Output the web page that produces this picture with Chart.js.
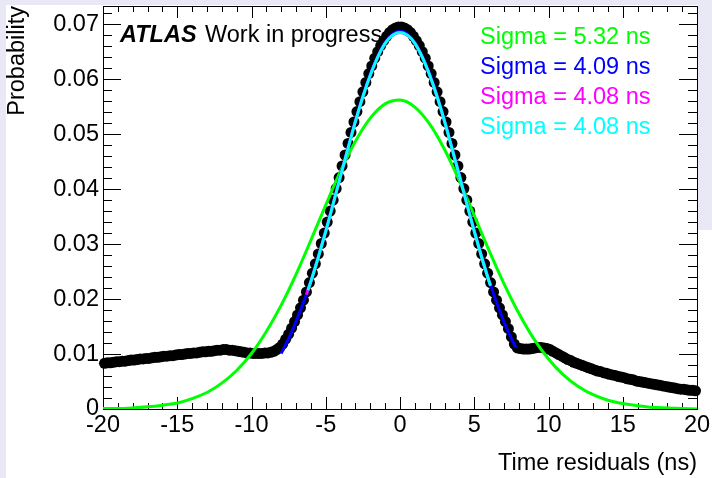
<!DOCTYPE html>
<html>
<head>
<meta charset="utf-8">
<script src="https://cdn.jsdelivr.net/npm/chart.js@4.4.1/dist/chart.umd.min.js"></script>
<style>
  html, body { margin: 0; padding: 0; background: #fff; }
  body { width: 712px; height: 478px; position: relative; overflow: hidden; }
  .strip { position: absolute; background: #e9e9f5; }
  #c { position: absolute; left: 0; top: 0; }
</style>
</head>
<body>
<div class="strip" style="left:0;top:0;width:712px;height:5px"></div>
<div class="strip" style="left:0;top:0;width:6px;height:478px"></div>
<div class="strip" style="left:698px;top:0;width:14px;height:230px"></div>
<canvas id="c" width="712" height="478"></canvas>
<script>
/* ===============================
   DATA (0.2 ns bins, -20 .. 20)
================================ */
const leftTail = [
    0.0083, 0.0084, 0.0084, 0.0085, 0.0086, 0.0086, 0.0087, 0.0087, 0.0088, 0.0089,
    0.0089, 0.0090, 0.0091, 0.0091, 0.0092, 0.0092, 0.0093, 0.0094, 0.0094, 0.0095,
    0.0096, 0.0096, 0.0097, 0.0097, 0.0098, 0.0099, 0.0099, 0.0100, 0.0101, 0.0101,
    0.0102, 0.0102, 0.0103, 0.0104, 0.0104, 0.0105, 0.0105, 0.0106, 0.0107, 0.0107,
    0.0108, 0.0108, 0.0107, 0.0107, 0.0106, 0.0105, 0.0104, 0.0103, 0.0102, 0.0102,
    0.0101, 0.0101, 0.0101, 0.0101, 0.0102, 0.0102, 0.0103, 0.0105, 0.0108, 0.0112
];
const risingEdge = [
    0.0118, 0.0127, 0.0136, 0.0147, 0.0159, 0.0171, 0.0184, 0.0198, 0.0213, 0.0230,
    0.0247, 0.0264, 0.0282, 0.0301, 0.0320, 0.0340, 0.0360, 0.0380, 0.0401, 0.0421,
    0.0442, 0.0462, 0.0483, 0.0503, 0.0522, 0.0541, 0.0559, 0.0577, 0.0594, 0.0610,
    0.0624, 0.0638, 0.0650, 0.0661, 0.0670, 0.0678, 0.0685, 0.0690, 0.0693, 0.0695
];
const fallingEdge = [
    0.0695, 0.0693, 0.0690, 0.0685, 0.0678, 0.0670, 0.0661, 0.0650, 0.0638, 0.0624,
    0.0610, 0.0594, 0.0577, 0.0559, 0.0541, 0.0522, 0.0503, 0.0483, 0.0462, 0.0442,
    0.0421, 0.0401, 0.0380, 0.0360, 0.0340, 0.0320, 0.0301, 0.0282, 0.0264, 0.0247,
    0.0230, 0.0213, 0.0198, 0.0184, 0.0171, 0.0159, 0.0146, 0.0131, 0.0118, 0.0111
];
const rightTail = [
    0.0110, 0.0109, 0.0109, 0.0109, 0.0110, 0.0111, 0.0112, 0.0112, 0.0111, 0.0110,
    0.0108, 0.0105, 0.0102, 0.0099, 0.0096, 0.0093, 0.0090, 0.0088, 0.0085, 0.0083,
    0.0081, 0.0079, 0.0077, 0.0075, 0.0073, 0.0071, 0.0069, 0.0068, 0.0066, 0.0065,
    0.0063, 0.0062, 0.0061, 0.0059, 0.0058, 0.0057, 0.0055, 0.0054, 0.0053, 0.0051,
    0.0050, 0.0049, 0.0048, 0.0047, 0.0046, 0.0045, 0.0044, 0.0043, 0.0042, 0.0041,
    0.0040, 0.0039, 0.0038, 0.0037, 0.0036, 0.0036, 0.0035, 0.0034, 0.0034, 0.0033
];
const histValues = leftTail.concat(risingEdge, fallingEdge, rightTail);
const binCenters = histValues.map((_, i) => -19.9 + 0.2 * i);

// fit curves
const greenX = [-20, -19, -18, -17, -16, -15, -14, -13, -12, -11, -10, -9, -8, -7, -6, -5, -4, -3, -2, -1,
    0, 1, 2, 3, 4, 5, 6, 7, 8, 9, 10, 11, 12, 13, 14, 15, 16, 17, 18, 19, 20];
const greenY = [0.0001, 0.0001, 0.0002, 0.0004, 0.0007, 0.0011, 0.0019, 0.0030, 0.0047, 0.0070,
    0.0101, 0.0141, 0.0189, 0.0245, 0.0307, 0.0371, 0.0433, 0.0487, 0.0529, 0.0555,
    0.0562, 0.0549, 0.0518, 0.0472, 0.0415, 0.0352, 0.0288, 0.0228, 0.0174, 0.0128,
    0.0091, 0.0062, 0.0041, 0.0026, 0.0016, 0.0010, 0.0006, 0.0003, 0.0002, 0.0001, 0.0000];

const blueX = [-8, -7.5, -7, -6.5, -6, -5.5, -5, -4.5, -4, -3.5, -3, -2.5, -2, -1.5, -1, -0.5,
    0, 0.5, 1, 1.5, 2, 2.5, 3, 3.5, 4, 4.5, 5, 5.5, 6, 6.5, 7, 7.5, 7.8];
const blueY = [0.0101, 0.0128, 0.0159, 0.0194, 0.0234, 0.0278, 0.0325, 0.0375, 0.0426, 0.0476,
    0.0525, 0.0570, 0.0610, 0.0642, 0.0667, 0.0682, 0.0687, 0.0682, 0.0667, 0.0642,
    0.0610, 0.0570, 0.0525, 0.0476, 0.0426, 0.0375, 0.0325, 0.0278, 0.0234, 0.0194,
    0.0159, 0.0128, 0.0112];

const magentaX = [-6.3, -6, -5.5, -5, -4.5, -4, -3.5, -3, -2.5, -2, -1.5, -1, -0.5,
    0, 0.5, 1, 1.5, 2, 2.5, 3, 3.5, 4, 4.5, 5, 5.5, 6, 6.1];
const magentaY = [0.0208, 0.0232, 0.0276, 0.0323, 0.0373, 0.0424, 0.0474, 0.0523, 0.0568, 0.0607,
    0.0640, 0.0665, 0.0680, 0.0685, 0.0680, 0.0665, 0.0640, 0.0607, 0.0568, 0.0523,
    0.0474, 0.0424, 0.0373, 0.0323, 0.0276, 0.0232, 0.0224];

const cyanX = [-6.2, -6, -5.5, -5, -4.5, -4, -3.5, -3, -2.5, -2, -1.5, -1, -0.5,
    0, 0.5, 1, 1.5, 2, 2.5, 3, 3.5, 4, 4.5, 5, 5.5, 6, 6.1];
const cyanY = [0.0216, 0.0232, 0.0276, 0.0323, 0.0373, 0.0424, 0.0474, 0.0523, 0.0568, 0.0607,
    0.0640, 0.0665, 0.0680, 0.0685, 0.0680, 0.0665, 0.0640, 0.0607, 0.0568, 0.0523,
    0.0474, 0.0424, 0.0373, 0.0323, 0.0276, 0.0232, 0.0224];

const legendLabels = ['Sigma = 5.32 ns', 'Sigma = 4.09 ns', 'Sigma = 4.08 ns', 'Sigma = 4.08 ns'];
const legendColors = ['#00ff00', '#0000ff', '#ff00ff', '#00ffff'];

const FONT = '"Liberation Sans", Arial, Helvetica, sans-serif';
const font = { family: FONT, size: 23.5 };

/* ===============================
   HELPERS
================================ */
function points(xs, ys) {
    return xs.map((x, i) => ({ x, y: ys[i] }));
}

function fitLine(xs, ys, color, order) {
    return {
        data: points(xs, ys),
        showLine: true,
        borderColor: color,
        borderWidth: 3,
        pointRadius: 0,
        cubicInterpolationMode: 'monotone',
        order
    };
}

/* ===============================
   FRAME + ROOT STYLE TICKS
================================ */
const frameTicks = {
    id: 'frameTicks',
    beforeDatasetsDraw(chart) {
        const { ctx, chartArea: a, scales: { x, y } } = chart;
        ctx.save();
        ctx.strokeStyle = '#000';
        ctx.lineWidth = 1;
        ctx.strokeRect(a.left + 0.5, a.top + 0.5, a.right - a.left, a.bottom - a.top);
        ctx.beginPath();
        for (let v = -20; v <= 20; v++) {
            const px = Math.round(x.getPixelForValue(v)) + 0.5;
            const len = v % 5 === 0 ? 12 : 6;
            ctx.moveTo(px, a.bottom);
            ctx.lineTo(px, a.bottom - len);
            ctx.moveTo(px, a.top);
            ctx.lineTo(px, a.top + len);
        }
        for (let i = 0; i <= 36; i++) {
            const py = Math.round(y.getPixelForValue(i * 0.002)) + 0.5;
            const len = i % 5 === 0 ? 18 : 9;
            ctx.moveTo(a.left, py);
            ctx.lineTo(a.left + len, py);
            ctx.moveTo(a.right, py);
            ctx.lineTo(a.right - len, py);
        }
        ctx.stroke();
        ctx.restore();
    },
    afterDraw(chart) {
        const { ctx } = chart;
        ctx.save();
        ctx.textBaseline = 'alphabetic';
        ctx.fillStyle = '#000';
        ctx.font = 'italic bold 23.5px ' + FONT;
        ctx.fillText('ATLAS', 120, 42);
        ctx.font = '23.5px ' + FONT;
        ctx.fillText('Work in progress', 205, 42);
        legendLabels.forEach((txt, i) => {
            ctx.fillStyle = legendColors[i];
            ctx.fillText(txt, 480, 44 + 30 * i);
        });
        ctx.restore();
    }
};

/* ===============================
   CHART
================================ */
new Chart(document.getElementById('c'), {
    type: 'scatter',
    data: {
        datasets: [
            {
                data: points(binCenters, histValues),
                pointRadius: 5.5,
                pointBackgroundColor: '#000',
                pointBorderWidth: 0,
                showLine: false,
                clip: false,
                order: 5
            },
            fitLine(greenX, greenY, legendColors[0], 4),
            fitLine(blueX, blueY, legendColors[1], 3),
            fitLine(magentaX, magentaY, legendColors[2], 2),
            fitLine(cyanX, cyanY, legendColors[3], 1)
        ]
    },
    options: {
        responsive: false,
        animation: false,
        layout: { padding: { left: 0, right: 15, top: 6, bottom: 0 } },
        plugins: { legend: { display: false }, tooltip: { enabled: false } },
        scales: {
            x: {
                type: 'linear',
                min: -20,
                max: 20,
                grid: { display: false, drawTicks: false },
                border: { display: false },
                ticks: {
                    stepSize: 5, includeBounds: false, autoSkip: false, maxRotation: 0,
                    padding: 2, color: '#000', font,
                    callback: v => String(v)
                },
                title: {
                    display: true, text: 'Time residuals (ns)', align: 'end',
                    color: '#000', font, padding: { top: 0, bottom: 0 }
                },
                afterFit: s => { s.height = 69; s.paddingLeft = 0; s.paddingRight = 0; }
            },
            y: {
                min: 0,
                max: 0.0733,
                grid: { display: false, drawTicks: false },
                border: { display: false },
                ticks: {
                    stepSize: 0.01, includeBounds: false, padding: 4, color: '#000', font,
                    callback: v => (v === 0 ? '0' : v.toFixed(2))
                },
                title: {
                    display: true, text: 'Probability', align: 'end',
                    color: '#000', font, padding: { top: 3, bottom: 0 }
                },
                afterFit: s => { s.width = 103; s.paddingTop = 0; s.paddingBottom = 0; }
            }
        }
    },
    plugins: [frameTicks]
});
</script>
</body>
</html>
